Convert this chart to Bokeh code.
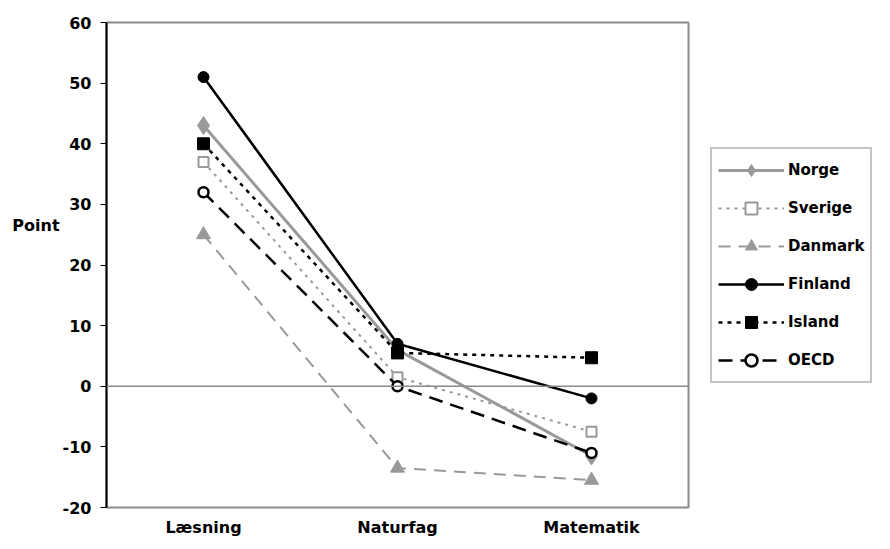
from bokeh.plotting import figure
from bokeh.models import Range1d, FactorRange, Span, Legend, LegendItem, FixedTicker
from bokeh.embed import file_html
from bokeh.resources import INLINE

subjects = ["Læsning", "Naturfag", "Matematik"]
norge = [43, 6, -11.5]
sverige = [37, 1.5, -7.5]
danmark = [25, -13.5, -15.5]
finland = [51, 7, -2]
island = [40, 5.5, 4.7]
oecd = [32, 0, -11]
y_ticks = [-20, -10, 0, 10, 20, 30, 40, 50, 60]

FONT = "DejaVu Sans"

p = figure(frame_width=582, frame_height=485, x_range=FactorRange(*subjects), y_range=Range1d(-20, 60),
           output_backend="svg", toolbar_location=None,
           min_border_left=106, min_border_right=0, min_border_top=22, min_border_bottom=20)
p.xgrid.visible = False
p.ygrid.visible = False
p.outline_line_color = "#8a8a8a"
p.outline_line_width = 2
p.background_fill_color = "white"
p.border_fill_color = "white"

p.yaxis.ticker = FixedTicker(ticks=y_ticks)
p.yaxis.major_label_overrides = {t: str(t) for t in y_ticks}
p.yaxis.axis_line_color = "black"
p.yaxis.axis_line_width = 2
p.yaxis.major_tick_out = 6
p.yaxis.major_tick_in = 0
p.yaxis.minor_tick_out = 0
p.yaxis.minor_tick_in = 0
p.yaxis.major_tick_line_color = "black"
p.yaxis.major_label_text_font = FONT
p.yaxis.major_label_text_font_style = "bold"
p.yaxis.major_label_text_font_size = "16px"
p.yaxis.major_label_text_color = "black"
p.yaxis.major_label_standoff = 9
p.yaxis.axis_label = "Point\n\n\n\n"
p.yaxis.axis_label_orientation = "horizontal"
p.yaxis.axis_label_text_font = FONT
p.yaxis.axis_label_text_font_style = "bold"
p.yaxis.axis_label_text_font_size = "16px"
p.yaxis.axis_label_text_color = "black"
p.yaxis.axis_label_text_line_height = 1.05
p.yaxis.axis_label_standoff = 0

p.xaxis.axis_line_color = None
p.xaxis.major_tick_line_color = None
p.xaxis.minor_tick_line_color = None
p.xaxis.major_label_text_font = FONT
p.xaxis.major_label_text_font_style = "bold"
p.xaxis.major_label_text_font_size = "16px"
p.xaxis.major_label_text_color = "black"
p.xaxis.major_label_standoff = 4

p.add_layout(Span(location=0, dimension="width", line_color="#8a8a8a", line_width=1.5))

items = []

r1 = p.line(subjects, norge, line_color="#999999", line_width=3)
m1 = p.scatter(subjects, norge, marker="diamond", size=18, fill_color="#999999", line_color="#999999")
items.append(LegendItem(label="Norge", renderers=[r1, m1]))

r2 = p.line(subjects, sverige, line_color="#999999", line_width=2, line_dash="3 5")
m2 = p.scatter(subjects, sverige, marker="square", size=10, fill_color="white", line_color="#999999", line_width=2)
items.append(LegendItem(label="Sverige", renderers=[r2, m2]))

r3 = p.line(subjects, danmark, line_color="#999999", line_width=2, line_dash="12 8")
m3 = p.scatter(subjects, danmark, marker="triangle", size=14, fill_color="#999999", line_color="#999999")
items.append(LegendItem(label="Danmark", renderers=[r3, m3]))

r4 = p.line(subjects, finland, line_color="black", line_width=2.5)
m4 = p.scatter(subjects, finland, marker="circle", size=11, fill_color="black", line_color="black")
items.append(LegendItem(label="Finland", renderers=[r4, m4]))

r5 = p.line(subjects, island, line_color="black", line_width=2.5, line_dash="4 5")
m5 = p.scatter(subjects, island, marker="square", size=12, fill_color="black", line_color="black")
items.append(LegendItem(label="Island", renderers=[r5, m5]))

r6 = p.line(subjects, oecd, line_color="black", line_width=2.5, line_dash="14 8")
m6 = p.scatter(subjects, oecd, marker="circle", size=10, fill_color="white", line_color="black", line_width=2.5)
items.append(LegendItem(label="OECD", renderers=[r6, m6]))

legend = Legend(items=items, location="left")
legend.border_line_color = "#8a8a8a"
legend.border_line_width = 2
legend.background_fill_color = "white"
legend.background_fill_alpha = 1
legend.label_text_font = FONT
legend.label_text_font_style = "bold"
legend.label_text_font_size = "15px"
legend.label_text_color = "black"
legend.glyph_width = 66
legend.glyph_height = 30
legend.label_height = 30
legend.spacing = 8
legend.padding = 6
legend.margin = 22
legend.label_standoff = 4
p.add_layout(legend, "right")

open("out.html", "w").write(file_html(p, INLINE))
